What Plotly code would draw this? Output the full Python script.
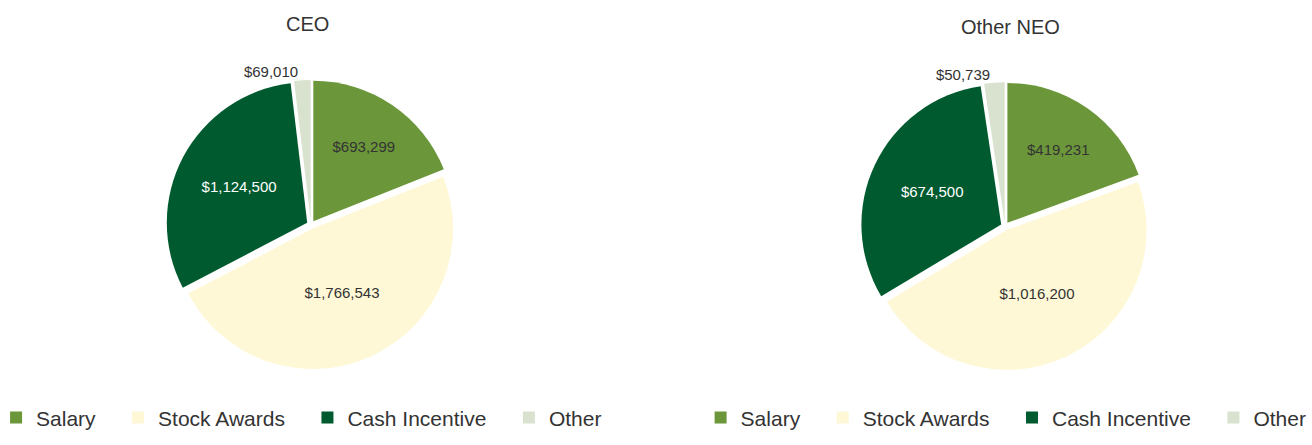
import plotly.graph_objects as go

categories = ["Salary", "Stock Awards", "Cash Incentive", "Other"]
ceo_values = [693299, 1766543, 1124500, 69010]
neo_values = [419231, 1016200, 674500, 50739]
titles = ["CEO", "Other NEO"]
colors = ["#6B973A", "#FFF8D6", "#005A2F", "#D9E2CE"]
text_colors = ["#333333", "#333333", "#FFFFFF", "#333333"]

PAD = "\u00a0" * 3
# trailing spacing between legend entries; second legend needs distinct
# (visually identical) label keys
def padded(cats, suffix):
    return [c + (PAD if k < len(cats) - 1 else "") + suffix for k, c in enumerate(cats)]

legend_labels = [padded(categories, ""), padded(categories, "\u200b")]

def money(vals):
    return ["${:,}".format(v) for v in vals]

FONT = "Liberation Sans, Arial"
fig = go.Figure()
for i, (vals, dom, leg) in enumerate([
    (ceo_values, dict(x=[0.0, 0.474], y=[0.17, 0.82]), "legend"),
    (neo_values, dict(x=[0.532, 1.0], y=[0.168, 0.815]), "legend2"),
]):
    fig.add_trace(go.Pie(
        labels=legend_labels[i], values=vals, text=money(vals),
        textinfo="text", sort=False, direction="clockwise", rotation=0,
        marker=dict(colors=colors, line=dict(color="white", width=0)),
        pull=[0.03, 0.03, 0.03, 0.03],
        textposition=["inside", "inside", "inside", "outside"],
        insidetextfont=dict(color=text_colors, size=15, family=FONT),
        outsidetextfont=dict(color="#333333", size=15, family=FONT),
        insidetextorientation="horizontal",
        domain=dom, legend=leg, hoverinfo="label+value", showlegend=True,
    ))

fig.update_layout(
    width=1312, height=445,
    margin=dict(l=0, r=0, t=0, b=0, autoexpand=False),
    paper_bgcolor="white", plot_bgcolor="white",
    font=dict(family=FONT, color="#333333"),
    legend=dict(orientation="h", x=-0.003, y=0.061, xanchor="left", yanchor="middle",
                font=dict(size=21, color="#333333"), itemclick=False),
    legend2=dict(orientation="h", x=0.534, y=0.061, xanchor="left", yanchor="middle",
                 font=dict(size=21, color="#333333"), itemclick=False),
    annotations=[
        dict(text=titles[0], x=307.5 / 1312, y=0.947, xref="paper", yref="paper",
             xanchor="center", yanchor="middle",
             showarrow=False, font=dict(size=20, color="#333333")),
        dict(text=titles[1], x=1010 / 1312, y=0.939, xref="paper", yref="paper",
             xanchor="center", yanchor="middle",
             showarrow=False, font=dict(size=20, color="#333333")),
    ],
)

fig.write_html("out.html")
